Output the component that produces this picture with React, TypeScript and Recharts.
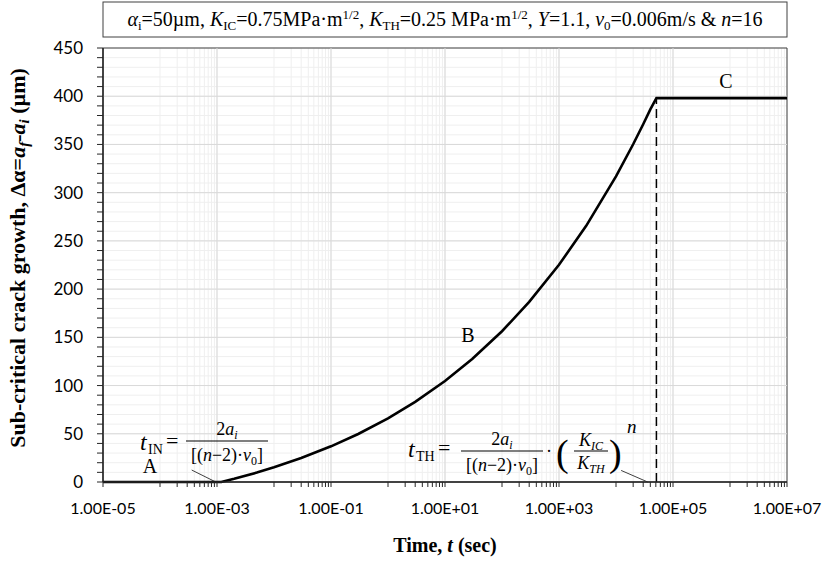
import {
  LineChart,
  Line,
  XAxis,
  YAxis,
  CartesianGrid,
  ReferenceLine,
  ReferenceArea,
} from "recharts";

// time (s) vs sub-critical crack growth (µm)
const timeSec = [
  1e-5, 1e-4, 1e-3, 1.19e-3, 2e-3, 5e-3, 1e-2, 3e-2, 1e-1, 3e-1, 1, 3, 10, 30,
  100, 300, 1e3, 3e3, 1e4, 2e4, 3e4, 4e4, 5.12e4, 1e5, 1e6, 1e7,
];
const crackGrowth = [
  0, 0, 0, 0, 3.3, 9.8, 15.3, 24.8, 37, 49.8, 66, 83.1, 104.7, 127.5, 156.3,
  186.7, 225.2, 265.6, 316.9, 350.2, 370.9, 386.3, 398, 398, 398, 398,
];

const xLabelTicks = [1e-5, 1e-3, 1e-1, 1e1, 1e3, 1e5, 1e7];
const yLabelTicks = [0, 50, 100, 150, 200, 250, 300, 350, 400, 450];

const tIN = 1.19e-3;
const tTH = 5.12e4;
const plateau = 398;

const data = timeSec.map((t, i) => ({ t, growth: crackGrowth[i] }));

// minor log ticks inside each 2-decade step (10x..90x of the label below)
const minorX: number[] = [];
xLabelTicks.slice(0, -1).forEach((L) => {
  for (let m = 1; m <= 9; m++) minorX.push(L * 10 * m);
});
const allXTicks = [...xLabelTicks, ...minorX].sort((a, b) => a - b);

const allYTicks: number[] = [];
for (let v = 0; v <= 450; v += 10) allYTicks.push(v);

const isLabelX = (v: number) =>
  xLabelTicks.some((L) => Math.abs(v / L - 1) < 1e-6);

const fmtSci = (v: number) => {
  if (!isLabelX(v)) return "";
  const [m, e] = v.toExponential(2).split("e");
  return `${m}E${e[0]}${e.slice(1).padStart(2, "0")}`;
};

const serif = "'Liberation Serif', 'DejaVu Serif', serif";
const sans = "Lato, 'Open Sans', sans-serif";

const W = 826;
const H = 562;
const PLOT_L = 103;
const PLOT_R = 787;
const PLOT_T = 48;
const PLOT_B = 482;

function Fraction({ cx, yNum, yBar, yDen, half, num, den }: any) {
  return (
    <g>
      <text x={cx} y={yNum} textAnchor="middle" fontSize={18}>
        {num}
      </text>
      <line x1={cx - half} x2={cx + half} y1={yBar} y2={yBar} stroke="#000" strokeWidth={1.2} />
      <text x={cx} y={yDen} textAnchor="middle" fontSize={18}>
        {den}
      </text>
    </g>
  );
}

const twoAi = (
  <>
    <tspan>2</tspan>
    <tspan fontStyle="italic">a</tspan>
    <tspan fontStyle="italic" fontSize={12} dy={4}>i</tspan>
  </>
);
const nMinus2v0 = (
  <>
    <tspan>[(</tspan>
    <tspan fontStyle="italic">n</tspan>
    <tspan>−2)·</tspan>
    <tspan fontStyle="italic">v</tspan>
    <tspan fontSize={12} dy={4}>0</tspan>
    <tspan dy={-4}>]</tspan>
  </>
);

function Annotations() {
  const sub = 13;
  return (
    <svg
      width={W}
      height={H}
      style={{ position: "absolute", left: 0, top: 0, pointerEvents: "none" }}
      fontFamily={serif}
      fill="#000"
    >
      {/* parameter box */}
      <rect x={PLOT_L} y={2} width={PLOT_R - PLOT_L} height={35} fill="#fff" stroke="#404040" />
      <text x={(PLOT_L + PLOT_R) / 2} y={26} textAnchor="middle" fontSize={20}>
        <tspan fontStyle="italic">α</tspan>
        <tspan fontSize={sub} dy={4}>i</tspan>
        <tspan dy={-4}>=50µm, </tspan>
        <tspan fontStyle="italic">K</tspan>
        <tspan fontSize={sub} dy={4}>IC</tspan>
        <tspan dy={-4}>=0.75MPa·m</tspan>
        <tspan fontSize={sub} dy={-7}>1/2</tspan>
        <tspan dy={7}>, </tspan>
        <tspan fontStyle="italic">K</tspan>
        <tspan fontSize={sub} dy={4}>TH</tspan>
        <tspan dy={-4}>=0.25 MPa·m</tspan>
        <tspan fontSize={sub} dy={-7}>1/2</tspan>
        <tspan dy={7}>, </tspan>
        <tspan fontStyle="italic">Y</tspan>
        <tspan>=1.1, </tspan>
        <tspan fontStyle="italic">v</tspan>
        <tspan fontSize={sub} dy={4}>0</tspan>
        <tspan dy={-4}>=0.006m/s &amp; </tspan>
        <tspan fontStyle="italic">n</tspan>
        <tspan>=16</tspan>
      </text>

      {/* axis titles */}
      <text
        transform={`translate(25, 258) rotate(-90)`}
        textAnchor="middle"
        fontSize={22}
        fontWeight="bold"
      >
        <tspan>Sub-critical crack growth, Δα=</tspan>
        <tspan fontStyle="italic">a</tspan>
        <tspan fontStyle="italic" fontSize={15} dy={4}>f</tspan>
        <tspan dy={-4}>-</tspan>
        <tspan fontStyle="italic">a</tspan>
        <tspan fontStyle="italic" fontSize={15} dy={4}>i</tspan>
        <tspan dy={-4}> (µm)</tspan>
      </text>
      <text x={(PLOT_L + PLOT_R) / 2} y={552} textAnchor="middle" fontSize={20} fontWeight="bold">
        <tspan>Time, </tspan>
        <tspan fontStyle="italic">t</tspan>
        <tspan> (sec)</tspan>
      </text>

      {/* region labels */}
      <text x={150} y={473} textAnchor="middle" fontSize={20}>A</text>
      <text x={468} y={342} textAnchor="middle" fontSize={20}>B</text>
      <text x={726} y={88} textAnchor="middle" fontSize={20}>C</text>

      {/* t_IN formula */}
      <text x={140} y={450} fontSize={24} fontStyle="italic">t</text>
      <text x={148} y={454} fontSize={14}>IN</text>
      <text x={166} y={448} fontSize={22}>=</text>
      <Fraction cx={227} yNum={435} yBar={441} yDen={461} half={41} num={twoAi} den={nMinus2v0} />

      {/* t_TH formula */}
      <text x={408} y={457} fontSize={24} fontStyle="italic">t</text>
      <text x={416} y={461} fontSize={14}>TH</text>
      <text x={438} y={455} fontSize={22}>=</text>
      <Fraction cx={502} yNum={445} yBar={451} yDen={471} half={41} num={twoAi} den={nMinus2v0} />
      <text x={549} y={457} textAnchor="middle" fontSize={18}>·</text>
      <text x={556} y={466} fontSize={38}>(</text>
      <text x={591} y={446} textAnchor="middle" fontSize={18} fontStyle="italic">
        <tspan>K</tspan>
        <tspan fontSize={12} dy={4}>IC</tspan>
      </text>
      <line x1={574} x2={608} y1={451} y2={451} stroke="#000" strokeWidth={1.2} />
      <text x={591} y={469} textAnchor="middle" fontSize={18} fontStyle="italic">
        <tspan>K</tspan>
        <tspan fontSize={12} dy={4}>TH</tspan>
      </text>
      <text x={609} y={466} fontSize={38}>)</text>
      <text x={627} y={433} fontSize={19} fontStyle="italic">n</text>
    </svg>
  );
}

export default function App() {
  return (
    <div style={{ position: "absolute", left: 0, top: 0, width: W, height: H, background: "#fff" }}>
      <LineChart
        width={W}
        height={H}
        data={data}
        margin={{ top: PLOT_T, right: W - PLOT_R, left: 43, bottom: 0 }}
      >
        <CartesianGrid stroke="#efefef" strokeWidth={1} />
        {xLabelTicks.slice(1, -1).map((v) => (
          <ReferenceLine key={`gx${v}`} x={v} stroke="#d9d9d9" strokeWidth={1} />
        ))}
        {yLabelTicks.slice(1, -1).map((v) => (
          <ReferenceLine key={`gy${v}`} y={v} stroke="#d9d9d9" strokeWidth={1} />
        ))}
        <ReferenceArea
          x1={1e-5}
          x2={1e7}
          y1={0}
          y2={450}
          fill="none"
          stroke="#404040"
          strokeWidth={1}
        />
        <XAxis
          dataKey="t"
          type="number"
          scale="log"
          domain={[1e-5, 1e7]}
          allowDataOverflow
          ticks={allXTicks}
          interval={0}
          tickFormatter={fmtSci}
          height={H - PLOT_B}
          tickSize={5}
          tickMargin={16}
          axisLine={{ stroke: "#262626", strokeWidth: 1.5 }}
          tickLine={{ stroke: "#262626" }}
          tick={{ fill: "#000", fontSize: 16, fontFamily: sans }}
        />
        <YAxis
          type="number"
          domain={[0, 450]}
          ticks={allYTicks}
          interval={0}
          tickFormatter={(v: number) => (v % 50 === 0 ? String(v) : "")}
          width={60}
          tickSize={6}
          tickMargin={14}
          axisLine={{ stroke: "#262626", strokeWidth: 1.5 }}
          tickLine={{ stroke: "#262626" }}
          tick={{ fill: "#000", fontSize: 17, fontFamily: sans }}
        />
        <ReferenceLine
          segment={[
            { x: tTH, y: 0 },
            { x: tTH, y: plateau },
          ]}
          stroke="#000"
          strokeWidth={1.5}
          strokeDasharray="9 5"
        />
        <ReferenceLine
          segment={[
            { x: 3.6e-4, y: 12.4 },
            { x: tIN * 0.8, y: 0 },
          ]}
          stroke="#404040"
          strokeWidth={1}
        />
        <ReferenceLine
          segment={[
            { x: 1.23e4, y: 12 },
            { x: 3.6e4, y: 0 },
          ]}
          stroke="#404040"
          strokeWidth={1}
        />
        <Line
          type="linear"
          dataKey="growth"
          stroke="#000"
          strokeWidth={2.6}
          dot={false}
          activeDot={false}
          isAnimationActive={false}
        />
      </LineChart>
      <Annotations />
    </div>
  );
}
